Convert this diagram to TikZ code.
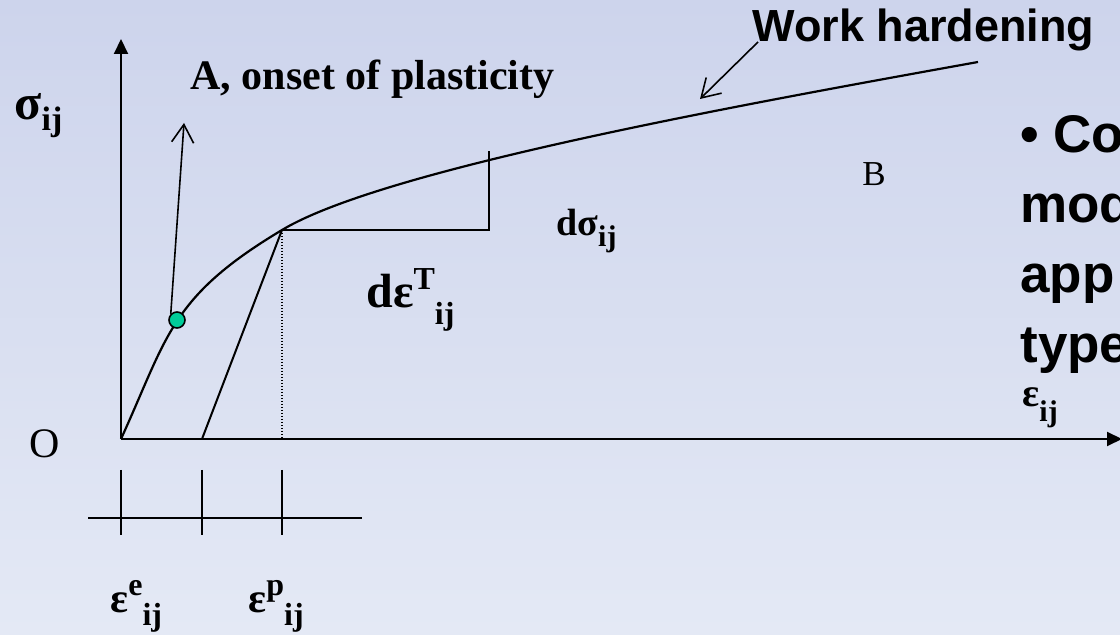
\documentclass[tikz,border=0pt]{standalone}
\usepackage{fontspec}
\setmainfont{Liberation Serif}
\newfontfamily\arialfont{Liberation Sans}
\usetikzlibrary{arrows.meta}
\definecolor{bgtop}{RGB}{205,212,236}
\definecolor{bgbot}{RGB}{228,233,245}
\definecolor{dotgreen}{RGB}{0,204,153}
\newcommand{\sz}[1]{\fontsize{#1}{#1}\selectfont}
\tikzset{
  axis/.style={
    line width = 1pt,
    -{Triangle[length=7.5pt,width=7pt]}
  },
  curve/.style={
    line width = 1.1pt
  },
  guide/.style={
    line width = 1pt
  },
  dotline/.style={
    line width = 0.6pt,
    dash pattern = on 0.6pt off 0.9pt
  },
  pointer/.style={
    line width = 0.8pt,
    -{Straight Barb[length=9pt,width=11pt,line width=0.8pt]}
  },
  onsetdot/.style={
    shape = circle,
    draw,
    fill = dotgreen,
    line width = 0.8pt,
    inner sep = 0pt,
    minimum size = 8pt
  },
  lbl/.style={
    inner sep = 0pt,
    anchor = base west
  },
}

\begin{document}
\begin{tikzpicture}[x=0.5pt,y=-0.5pt]
    \shade[top color=bgtop, bottom color=bgbot] (0,0) rectangle (1120,635);
    \useasboundingbox (0,0) rectangle (1120,635);
    \coordinate (O) at (121,439);
    \coordinate (ytop) at (121,39);
    \coordinate (xend) at (1122,439);
    \coordinate (Y) at (282,230);
    \coordinate (U) at (202,439);
    \coordinate (Yx) at (282,439);
    \coordinate (C) at (489,230);
    \coordinate (Ct) at (489,151);
    \coordinate (E) at (978,62);
    \coordinate (Atip) at (184,123);
    \coordinate (Wtip) at (700,99);
    % axes and stress-strain curve
    \draw[axis] (O) -- (ytop);
    \draw[axis] (O) -- (xend);
    \draw[curve] (O) .. controls (168,336) and (170,297) .. (Y)
                     .. controls (382,170) and (728,107) .. (E);
    \draw[guide] (Y) -- (C) -- (Ct);
    \draw[guide] (Y) -- (U);
    \draw[dotline] (Y) -- (Yx);
    \node[onsetdot] (A) at (177,320) {};
    % strain scale below
    \draw[guide] (88,518) -- (362,518);
    \foreach \x in {121,202,282}{
    \draw[guide] (\x,470) -- (\x,535);}
    % labels
    \node[lbl, font=\bfseries\sz{25pt}] (sig) at (14,120) {σ\raisebox{-5.5pt}{\sz{17pt}ij}};
    \node[lbl, font=\bfseries\sz{21pt}] (onset) at (190,90) {A, onset of plasticity};
    \node[lbl, font=\arialfont\bfseries\sz{22.5pt}] (work) at (752,42) {Work hardening};
    \node[lbl, font=\sz{21pt}] (Olbl) at (29,458) {O};
    \node[lbl, font=\sz{17.5pt}] (Blbl) at (862,186) {B};
    \node[lbl, font=\bfseries\sz{19pt}] (dsig) at (556,236) {dσ\raisebox{-5.5pt}{\sz{15pt}ij}};
    \node[lbl, font=\bfseries\sz{24pt}] (deps) at (366,308) {dε\raisebox{9pt}{\sz{16pt}T}\raisebox{-8.5pt}{\sz{16pt}ij}};
    \node[lbl, font=\bfseries\sz{21pt}] (epse) at (110,613) {ε\raisebox{8.5pt}{\sz{16pt}e}\raisebox{-6.5pt}{\sz{16pt}ij}};
    \node[lbl, font=\bfseries\sz{21pt}] (epsp) at (248,613) {ε\raisebox{8.5pt}{\sz{16pt}p}\raisebox{-6.5pt}{\sz{16pt}ij}};
    \node[lbl, font=\bfseries\sz{20pt}] (epsij) at (1022,407) {ε\raisebox{-7.5pt}{\sz{15pt}ij}};
    \foreach \t [count=\i] in {• Co, mod, app, type}{
    \node[lbl, font=\arialfont\bfseries\sz{26.5pt}] (note\i) at (1020,{153+70*(\i-1)}) {\t};}
    \draw[pointer] (A.north west) -- (Atip);
    \draw[pointer] ([xshift=3pt]work.base west) -- (Wtip);
\end{tikzpicture}
\end{document}
